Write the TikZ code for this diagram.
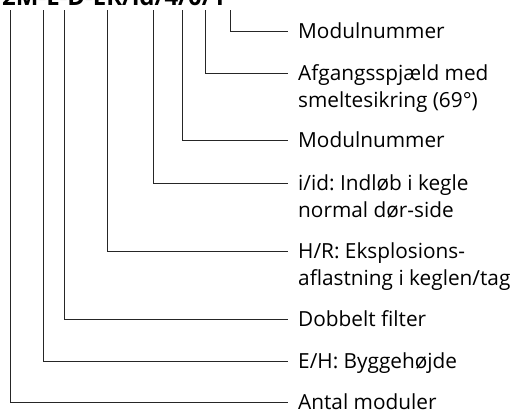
\documentclass[tikz,border=0pt]{standalone}
\usepackage{fontspec}
\setmainfont{Open Sans}
\frenchspacing
\begin{document}
\begin{tikzpicture}[x=1bp,y=-1bp,
  lead/.style={draw=black!85,line width=1bp},
  lbl/.style={anchor=base west,inner sep=0pt,align=left,font=\fontsize{20.8bp}{26.5bp}\selectfont\frenchspacing},
  code/.style={anchor=base west,inner sep=0pt,font=\fontsize{24bp}{28bp}\selectfont\bfseries}]
\useasboundingbox (0,0) rectangle (515,412);
\clip (0,0) rectangle (515,412);
\node[code] (c) at (2,5) {2M-E-D-ER/id/4/0/1};
% connector start points under the code
\coordinate (s1) at (10,10);
\coordinate (s2) at (43,10);
\coordinate (s3) at (64,10);
\coordinate (s4) at (107,10);
\coordinate (s5) at (153,10);
\coordinate (s6) at (182,10);
\coordinate (s7) at (205,10);
\coordinate (s8) at (230,10);
% labels (base anchor = baseline of last line)
\node[lbl] (l8) at (298,38.5) {Modulnummer};
\node[lbl] (l7) at (298,107) {Afgangsspjæld med\\smeltesikring (69°)};
\node[lbl] (l6) at (298,147.5) {Modulnummer};
\node[lbl] (l5) at (298,217) {i/id: Indløb i kegle\\normal dør-side};
\node[lbl] (l4) at (298,285) {H/R: Eksplosions-\\aflastning i keglen/tag};
\node[lbl] (l3) at (298,326.5) {Dobbelt filter};
\node[lbl] (l2) at (298,368.5) {E/H: Byggehøjde};
\node[lbl] (l1) at (298,409.5) {Antal moduler};
% line ends
\coordinate (e8) at (288,31);
\coordinate (e7) at (288,73);
\coordinate (e6) at (288,140);
\coordinate (e5) at (288,183);
\coordinate (e4) at (288,251);
\coordinate (e3) at (288,319);
\coordinate (e2) at (288,361);
\coordinate (e1) at (288,402);
\foreach \i in {1,...,8} {\draw[lead] (s\i) |- (e\i);}
\end{tikzpicture}
\end{document}
